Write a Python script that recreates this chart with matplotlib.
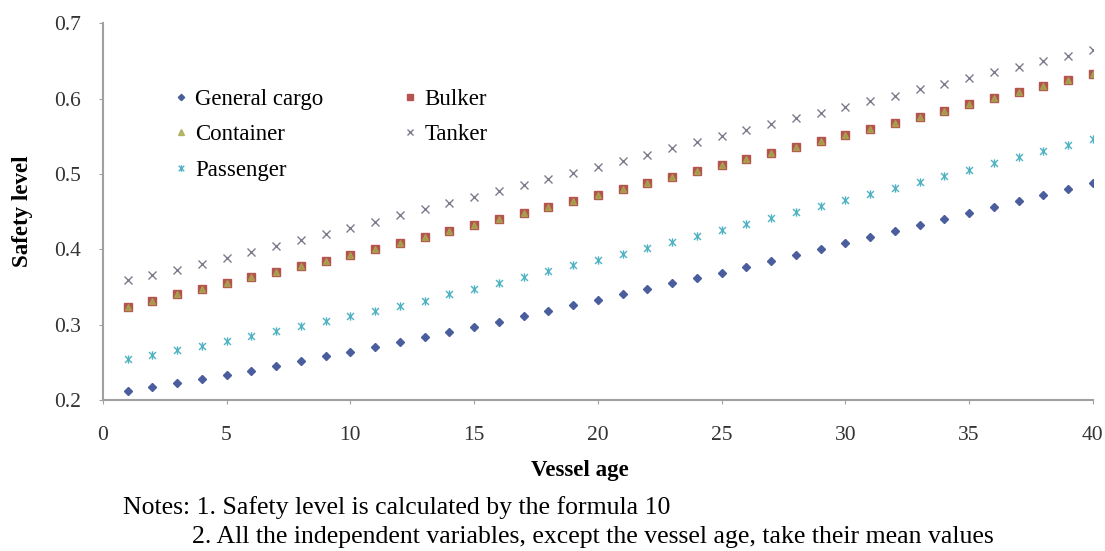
import matplotlib
matplotlib.use("Agg")
import matplotlib.pyplot as plt
from matplotlib.path import Path

# vessel age 1..40
ages = list(range(1, 41))

general_cargo = [0.212, 0.217, 0.222, 0.228, 0.233, 0.239, 0.245, 0.252, 0.258, 0.264,
                 0.270, 0.277, 0.283, 0.290, 0.297, 0.304, 0.311, 0.318, 0.326, 0.333,
                 0.340, 0.347, 0.355, 0.362, 0.369, 0.377, 0.384, 0.392, 0.400, 0.408,
                 0.416, 0.424, 0.432, 0.440, 0.448, 0.456, 0.464, 0.472, 0.480, 0.488]

bulker = [0.324, 0.332, 0.340, 0.347, 0.355, 0.363, 0.370, 0.378, 0.385, 0.393,
          0.401, 0.408, 0.416, 0.424, 0.432, 0.440, 0.448, 0.456, 0.464, 0.472,
          0.480, 0.488, 0.496, 0.504, 0.512, 0.520, 0.528, 0.536, 0.544, 0.552,
          0.560, 0.568, 0.576, 0.584, 0.593, 0.601, 0.609, 0.617, 0.625, 0.633]

container = [0.324, 0.332, 0.340, 0.347, 0.355, 0.363, 0.370, 0.378, 0.385, 0.393,
             0.401, 0.408, 0.416, 0.424, 0.432, 0.440, 0.448, 0.456, 0.464, 0.472,
             0.480, 0.488, 0.496, 0.504, 0.512, 0.520, 0.528, 0.536, 0.544, 0.552,
             0.560, 0.568, 0.576, 0.584, 0.593, 0.601, 0.609, 0.617, 0.625, 0.633]

tanker = [0.359, 0.366, 0.373, 0.381, 0.388, 0.396, 0.404, 0.412, 0.420, 0.428,
          0.436, 0.445, 0.453, 0.461, 0.469, 0.477, 0.485, 0.493, 0.501, 0.509,
          0.517, 0.525, 0.534, 0.542, 0.550, 0.558, 0.566, 0.574, 0.581, 0.589,
          0.597, 0.604, 0.612, 0.619, 0.627, 0.635, 0.642, 0.650, 0.657, 0.665]

passenger = [0.254, 0.260, 0.266, 0.272, 0.278, 0.285, 0.291, 0.298, 0.305, 0.312,
             0.318, 0.325, 0.332, 0.340, 0.347, 0.355, 0.363, 0.371, 0.379, 0.386,
             0.394, 0.402, 0.410, 0.418, 0.426, 0.434, 0.441, 0.449, 0.457, 0.465,
             0.473, 0.481, 0.489, 0.497, 0.505, 0.514, 0.522, 0.530, 0.538, 0.546]

xticks = [0, 5, 10, 15, 20, 25, 30, 35, 40]
yticks = [0.2, 0.3, 0.4, 0.5, 0.6, 0.7]

plt.rcParams['font.family'] = ['Liberation Serif', 'DejaVu Serif']

# excel style "star" marker: an x with a vertical bar through it
star = Path([(-1, -1), (1, 1), (-1, 1), (1, -1), (0, -1.2), (0, 1.2)],
            [Path.MOVETO, Path.LINETO, Path.MOVETO, Path.LINETO, Path.MOVETO, Path.LINETO])

fig = plt.figure(figsize=(11.05, 5.51), dpi=100)
ax = fig.add_axes([0.093, 0.274, 0.896, 0.684])

gc, = ax.plot(ages, general_cargo, ls='none', marker='D', ms=4, color='#4a5d9c', label='General cargo')
bk, = ax.plot(ages, bulker, ls='none', marker='s', ms=6, color='#b5534f', label='Bulker')
ct, = ax.plot(ages, container, ls='none', marker='^', ms=5, color='#a7a94e', alpha=0.8, label='Container')
tk, = ax.plot(ages, tanker, ls='none', marker='x', ms=6, mew=1.0, color='#7c7c8c', label='Tanker')
ps, = ax.plot(ages, passenger, ls='none', marker=star, ms=6, mew=1.0, color='#4fb3c4', label='Passenger')

ax.set_xlim(0, 40)
ax.set_ylim(0.2, 0.7)
ax.set_xticks(xticks)
ax.set_yticks(yticks)
ax.set_xticklabels([str(t) for t in xticks])
ax.set_yticklabels(['%.1f' % t for t in yticks])

for s in ['top', 'right']:
    ax.spines[s].set_visible(False)
for s in ['left', 'bottom']:
    ax.spines[s].set_color('#a0a0a0')
    ax.spines[s].set_linewidth(1.5)
ax.tick_params(direction='out', length=3, color='#a0a0a0', labelsize=15.5, labelcolor='#333333')
ax.tick_params(axis='x', pad=16)
ax.tick_params(axis='y', pad=13)

ax.set_xlabel('Vessel age', fontsize=16.5, fontweight='bold')
ax.set_ylabel('Safety level', fontsize=16.5, fontweight='bold')
ax.xaxis.set_label_coords(0.482, -0.160)
ax.yaxis.set_label_coords(-0.070, 0.5)

# row-wise order like the original: GC, Bulker / Container, Tanker / Passenger
ax.legend([gc, ct, ps, bk, tk], ['General cargo', 'Container', 'Passenger', 'Bulker', 'Tanker'],
          loc='upper left', bbox_to_anchor=(0.1475, 0.856), bbox_transform=fig.transFigure,
          ncol=2, frameon=False, fontsize=16.5, handletextpad=0.2, handlelength=0.8,
          columnspacing=3.4, labelspacing=0.65, markerscale=0.8, borderaxespad=0)

fig.text(0.111, 1 - 508 / 551, 'Notes: 1. Safety level is calculated by the formula 10',
         fontsize=18.5, va='center')
fig.text(0.174, 1 - 537 / 551, '2. All the independent variables, except the vessel age, take their mean values',
         fontsize=18.5, va='center')

fig.savefig('out.png', dpi=100)
